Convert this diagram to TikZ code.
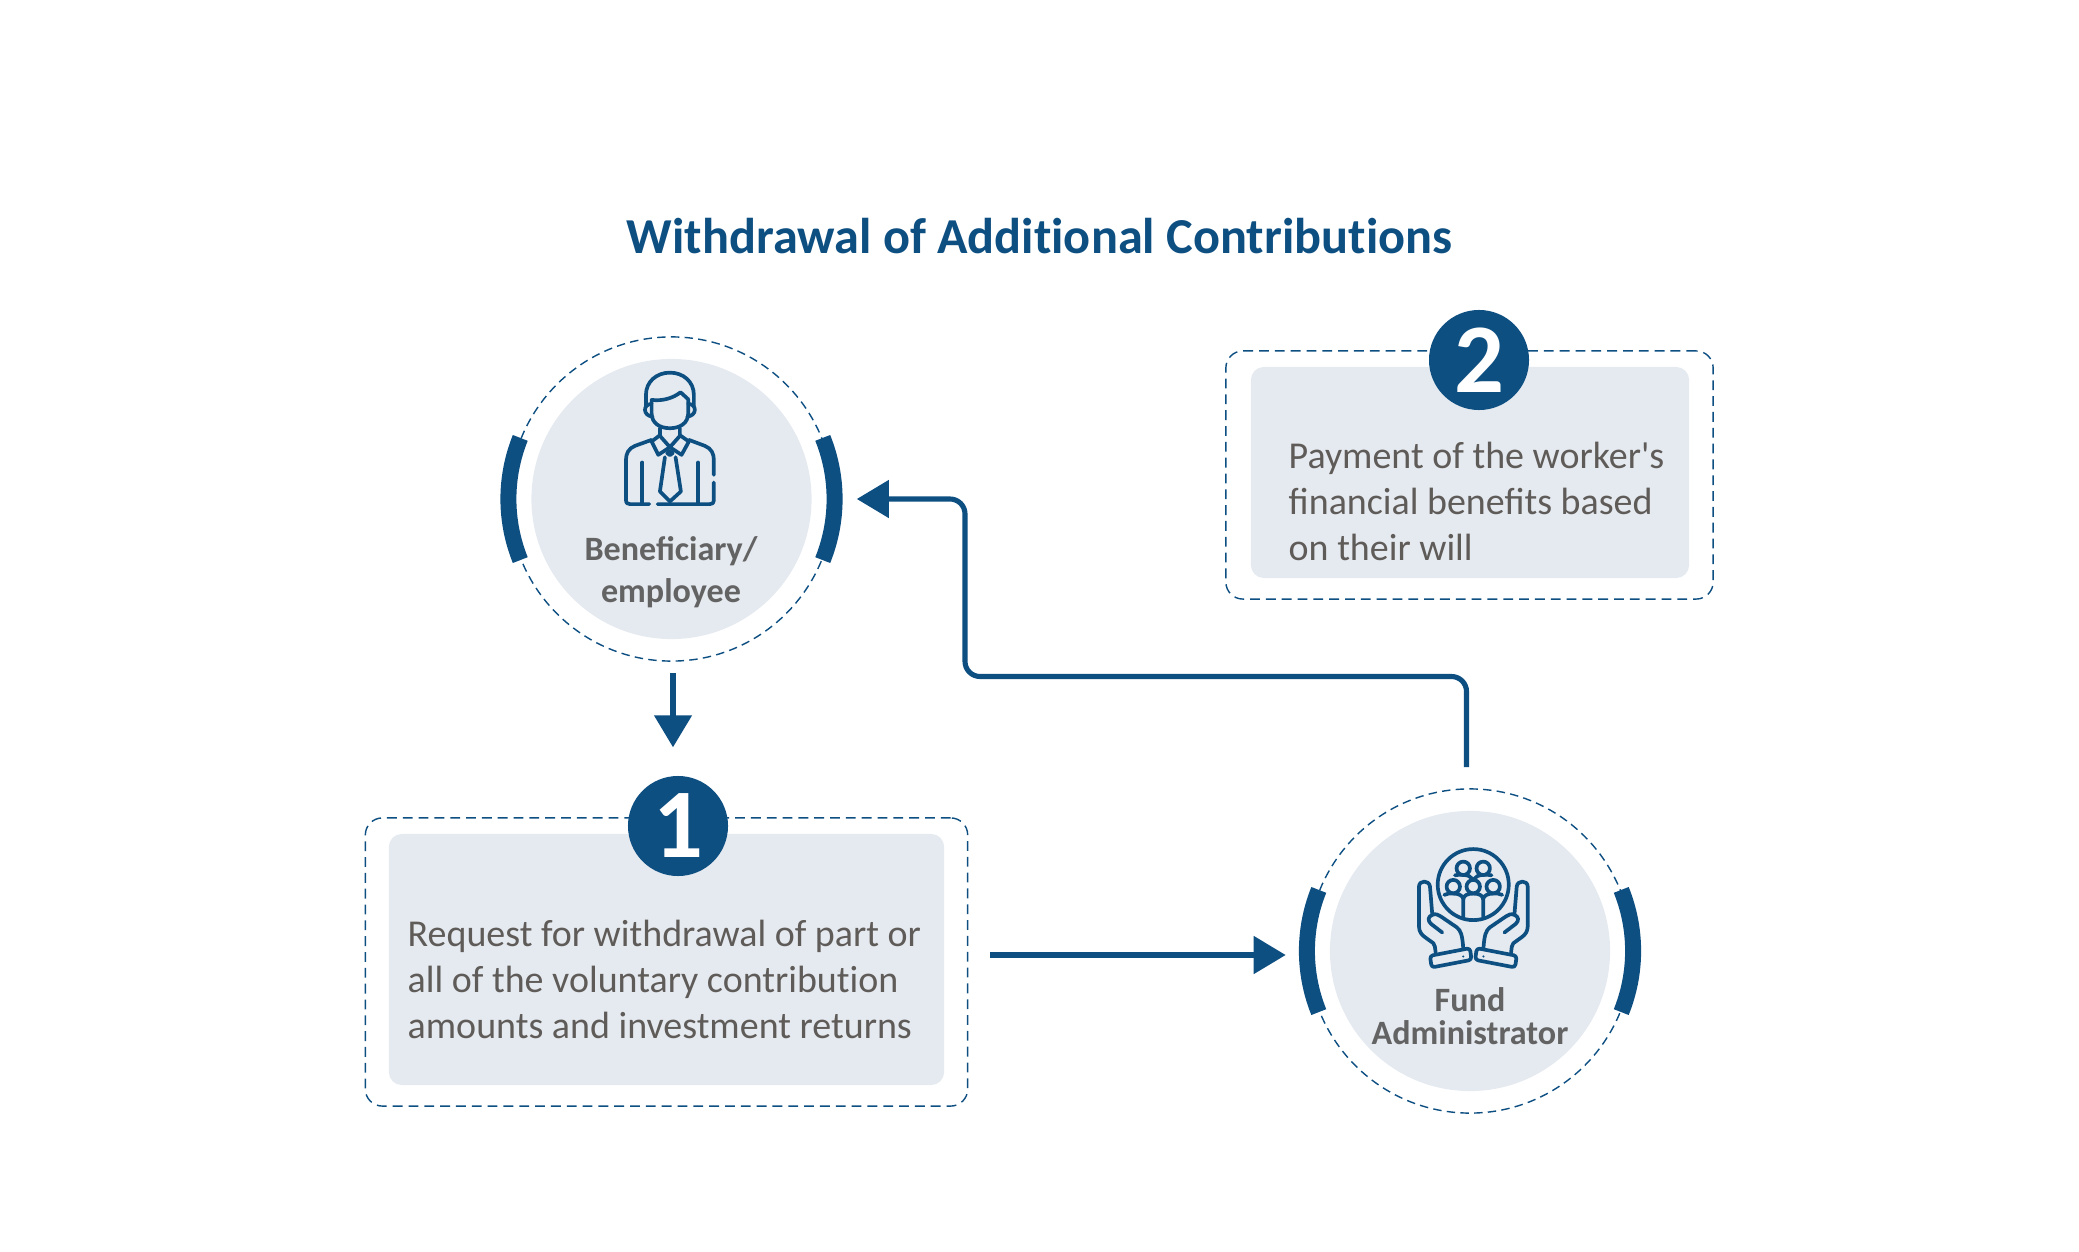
\documentclass[tikz,border=0pt]{standalone}
\usepackage{fontspec}
\setmainfont{Carlito}
\usetikzlibrary{arrows.meta, positioning}
\definecolor{fundblue}{HTML}{0E4F82}
\definecolor{panelgray}{HTML}{E5EAF0}
\definecolor{bodygray}{HTML}{5F5B58}
\definecolor{labelgray}{HTML}{636363}
\tikzset{
  discfill/.style={circle, fill=panelgray, minimum size=2.8cm, inner sep=0pt},
  discring/.style={circle, draw=fundblue, line width=0.4pt, dash pattern=on 2.4pt off 1.5pt, minimum size=3.24cm, inner sep=0pt},
  ringbar/.style={draw=fundblue, line width=4.55pt},
  panel/.style={rectangle, fill=panelgray, rounded corners=0.13cm, inner sep=0pt},
  panelring/.style={rectangle, draw=fundblue, line width=0.4pt, dash pattern=on 2.8pt off 1.7pt, rounded corners=0.17cm, inner sep=0pt},
  badge/.style={circle, fill=fundblue, text=white, minimum size=1cm, inner sep=0pt, font=\fontsize{28}{28}\selectfont\bfseries},
  bodytext/.style={anchor=north west, align=left, inner sep=0pt, text=bodygray, font=\fontsize{10.8}{13.2}\selectfont},
  disclabel/.style={align=center, inner sep=0pt, text=labelgray},
  flowarrow/.style={draw=fundblue, line width=1.45pt, -{Triangle[length=9.1pt, width=10.5pt]}},
  iconline/.style={draw=fundblue, line width=1.05pt, line cap=round, line join=round}
}
\begin{document}
\begin{tikzpicture}[x=0.01cm, y=-0.01cm]
  \useasboundingbox (0,0) rectangle (2079,1252);
  % Title
  \node[text=fundblue, inner sep=0pt, font=\fontsize{14.3}{17}\selectfont\bfseries] (title) at (1039.5,236) {Withdrawal of Addit\kern0pt ional Contribut\kern0pt ions};
  % Beneficiary
  \node[discring] (benring) at (671.5,499) {};
  \node[discfill] (bendisc) at (671.5,499) {};
  \draw[ringbar] ([shift={(22:1.63cm)}]benring.center) arc[start angle=22, end angle=-22, radius=1.63cm];
  \draw[ringbar] ([shift={(158:1.63cm)}]benring.center) arc[start angle=158, end angle=202, radius=1.63cm];
  \node[disclabel, font=\fontsize{9.7}{11.9}\selectfont\bfseries] (benlabel) at (671,572) {Beneficiary/\\employee};
  % Fund administrator
  \node[discring] (adminring) at (1470,951) {};
  \node[discfill] (admindisc) at (1470,951) {};
  \draw[ringbar] ([shift={(22:1.63cm)}]adminring.center) arc[start angle=22, end angle=-22, radius=1.63cm];
  \draw[ringbar] ([shift={(158:1.63cm)}]adminring.center) arc[start angle=158, end angle=202, radius=1.63cm];
  \node[disclabel, font=\fontsize{9.7}{9.2}\selectfont\bfseries] (adminlabel) at (1470,1016) {Fund\\Administrator};
  % Step 1
  \node[panelring, minimum width=6.02cm, minimum height=2.88cm] (onering) at (666.5,962) {};
  \node[panel, minimum width=5.55cm, minimum height=2.51cm] (onepanel) at (666.5,959.5) {};
  \node[badge] (onebadge) at (678,826) {1};
  \node[bodytext] (onetext) at (407,919) {Request for withdrawal of part or\\all of the voluntary contribut\kern0pt ion\\amounts and investment returns};
  % Step 2
  \node[panelring, minimum width=4.87cm, minimum height=2.48cm] (tworing) at (1469.5,475) {};
  \node[panel, minimum width=4.38cm, minimum height=2.11cm] (twopanel) at (1470,472.5) {};
  \node[badge] (twobadge) at (1479,360) {2};
  \node[bodytext] (twotext) at (1288,441) {Payment of the worker\textquotesingle s\\financial benefits based\\on their will};
  % Arrows
  \coordinate (turnlow) at (965,676.5);
  \draw[flowarrow, shorten <=0.11cm, shorten >=0.28cm] ([xshift=0.015cm]benring.south) -- ([xshift=0.015cm]benring.south |- onebadge.north);
  \draw[flowarrow, shorten <=0.215cm, shorten >=0.215cm] ([yshift=-0.04cm]onering.east |- adminring.west) -- ([yshift=-0.04cm]adminring.west);
  \draw[flowarrow, rounded corners=0.15cm, shorten <=0.21cm, shorten >=0.225cm] ([xshift=-0.035cm]adminring.north) -- ([xshift=-0.035cm]adminring.north |- turnlow) -- (turnlow) -- (turnlow |- benring.east) -- (benring.east);
  % Person icon
  \begin{scope}[shift={(610,360)}, x=0.00333cm, y=-0.00333cm, iconline]
    \draw (108,140) -- (108,105) .. controls (108,65) and (140,38) .. (180,38) .. controls (220,38) and (252,65) .. (252,105) -- (252,140);
    \draw (125,120) .. controls (160,124) and (190,114) .. (212,97) -- (235,118) -- (235,160) .. controls (235,190) and (210,205) .. (180,205) .. controls (150,205) and (125,190) .. (125,160) -- cycle;
    \draw (125,132) .. controls (98,132) and (98,168) .. (128,170);
    \draw (235,132) .. controls (262,132) and (262,168) .. (232,170);
    \draw (150,205) -- (150,228) -- (180,262) -- (210,228) -- (210,205);
    \draw (150,226) -- (125,245) -- (145,285) -- (180,262) -- (215,285) -- (237,245) -- (210,226);
    \draw (172,280) -- (180,274) -- (188,280) -- (180,286) -- cycle;
    \draw (165,292) -- (150,395) -- (180,425) -- (213,395) -- (197,292);
    \draw (125,240) -- (75,258) .. controls (55,266) and (48,282) .. (48,300) -- (48,420) .. controls (48,430) and (52,433) .. (60,433) -- (118,433);
    \draw (237,240) -- (285,258) .. controls (305,266) and (312,282) .. (312,300) -- (312,345);
    \draw (312,368) -- (312,422) .. controls (312,430) and (308,433) .. (300,433) -- (143,433);
    \draw (97,308) -- (97,433);
    \draw (265,308) -- (265,433);
  \end{scope}
  % Hands and group icon
  \begin{scope}[shift={(1405,840)}, x=0.00333cm, y=-0.00333cm, iconline]
    \draw (205,134) circle[radius=0.355cm];
    \foreach \hx/\hy in {175/85, 235/85, 145/140, 205/140, 265/140}
      \draw (\hx,\hy) circle[radius=0.067cm];
    \draw (175,230) -- (175,180) .. controls (175,166) and (188,161) .. (205,161) .. controls (222,161) and (235,166) .. (235,180) -- (235,230);
    \draw (118,165) .. controls (125,160) and (135,161) .. (145,161) .. controls (160,161) and (172,166) .. (175,176);
    \draw (292,165) .. controls (285,160) and (275,161) .. (265,161) .. controls (250,161) and (238,166) .. (235,176);
    \draw (150,106) .. controls (160,103) and (168,105) .. (175,105) .. controls (190,105) and (198,110) .. (204,119);
    \draw (260,106) .. controls (250,103) and (242,105) .. (235,105) .. controls (220,105) and (212,110) .. (206,119);
  \end{scope}
  \foreach \hshift/\hscale in {1405/0.00333, 1541.67/-0.00333} {
    \begin{scope}[shift={(\hshift,840)}, x=\hscale cm, y=-0.00333cm, iconline]
      \draw (82,225) -- (75,140) .. controls (73,120) and (42,120) .. (42,140) -- (42,260) .. controls (42,275) and (50,285) .. (60,292) -- (85,310) .. controls (90,315) and (90,322) .. (92,338);
      \draw (112,278) -- (78,252) .. controls (68,243) and (68,230) .. (82,225) .. controls (92,220) and (100,225) .. (108,230) -- (155,262) .. controls (168,272) and (172,285) .. (175,325);
      \draw[rounded corners=0.03cm] (75,348) -- (195,325) -- (200,360) -- (80,383) -- cycle;
      \fill[fundblue] (175,350) circle[radius=0.012cm];
    \end{scope}
  }
\end{tikzpicture}
\end{document}
